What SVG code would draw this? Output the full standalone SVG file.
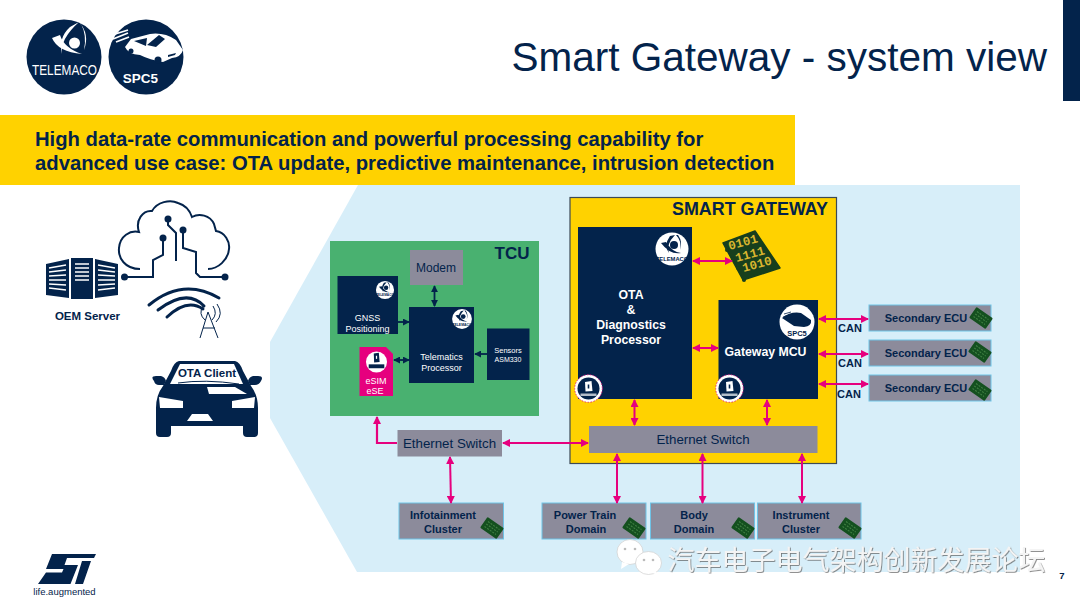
<svg xmlns="http://www.w3.org/2000/svg" xmlns:xlink="http://www.w3.org/1999/xlink" width="1080" height="608" viewBox="0 0 1080 608">
<style>
text{font-family:"Liberation Sans",Arial,sans-serif;fill:#03234b;text-anchor:middle}
.b{font-weight:bold}
.w{fill:#fff}
.navy{fill:#03234b}
.gray{fill:#8c8b9b}
.box{fill:#8c8b9b;stroke:#6fc3e6;stroke-width:1}
.lbl{font-size:11px;font-weight:bold}
.pk{stroke:#e6007e;stroke-width:2;fill:none;marker-start:url(#pa);marker-end:url(#pa)}
.pk1{stroke:#e6007e;stroke-width:2.200;fill:none;marker-end:url(#pa)}
.dk{stroke:#03234b;stroke-width:1.800;fill:none;marker-end:url(#da)}
.dk2{stroke:#03234b;stroke-width:1.800;fill:none;marker-start:url(#da);marker-end:url(#da)}
.ln{stroke:#03234b;fill:none;stroke-width:2}
.mono{fill:#d9b62f;font-family:"Liberation Mono",monospace;font-size:12.500px;font-weight:bold}
</style>
<defs>
<marker id="pa" viewBox="0 0 8 8" refX="7" refY="4" markerWidth="8" markerHeight="8" markerUnits="userSpaceOnUse" orient="auto-start-reverse"><path d="M0 0L8 4L0 8Z" fill="#e6007e"/></marker>
<marker id="da" viewBox="0 0 8 8" refX="7" refY="4" markerWidth="7" markerHeight="7" markerUnits="userSpaceOnUse" orient="auto-start-reverse"><path d="M0 0L8 4L0 8Z" fill="#03234b"/></marker>
<filter id="sh" x="-5%" y="-20%" width="110%" height="140%"><feDropShadow dx="0.800" dy="0.800" stdDeviation="0.500" flood-color="#555" flood-opacity="0.800"/></filter>
<g id="chip">
<g transform="rotate(35)">
<rect x="-10" y="-6.500" width="20" height="13" rx="1" fill="#14501f"/>
<path d="M-7-3H7M-7 0H7M-7 3H7" stroke="#3f7f42" stroke-width="1.100" stroke-dasharray="2 1.200"/>
</g>
</g>
<g id="tele">
<circle r="16.500" fill="#fff"/>
<path d="M-11-6Q-2 6 9 4Q0 3-6-7ZM-2-13Q-9-3-3 4Q-6-5 3-14ZM4-14Q10-8 8 1Q11-7 6-14Z" fill="#03234b"/>
<circle cx="2" cy="-4" r="4" fill="#03234b"/>
<text y="11.500" font-size="5.800" font-weight="bold">TELEMACO</text>
</g>
<g id="spc">
<circle r="17.500" fill="#fff"/>
<path d="M-15-4Q-6-11 4-9L14-2Q15 4 7 5L-3 4L-9 0Z" fill="#03234b"/>
<path d="M-13-8L-6-10M-14-5L-8-7" stroke="#03234b" stroke-width="0.800"/>
<text y="14" font-size="7.500" font-weight="bold">SPC5</text>
</g>
<g id="sec">
<circle r="13.800" fill="#fff" stroke="#e6007e" stroke-width="0.800" stroke-dasharray="1.500 1.500"/>
<circle r="11" fill="#03234b"/>
<path d="M-3.500-6.500L3-7.500L4 2.500L-3 3Z" fill="#fff"/>
<rect x="-0.800" y="-4" width="1.600" height="4" fill="#03234b"/>
<rect x="-8" y="5" width="16" height="2.500" fill="#fff" opacity="0.700"/>
</g>
<g id="sec2">
<circle r="13.500" fill="#fff"/>
<path d="M-3.500-11L3-12L4 0L-3 0.500Z" fill="#03234b"/>
<rect x="-0.800" y="-8" width="1.600" height="4" fill="#fff"/>
<rect x="-10" y="3" width="20" height="5" fill="#03234b"/>
</g>
</defs>

<rect id="corner" x="1063" y="0" width="17" height="101" fill="#03234b"/>

<g id="logos">
<circle cx="64" cy="57" r="37.500" fill="#03234b"/>
<path d="M52 38Q58 52 82 54Q64 48 60 35ZM70 27Q58 38 62 54Q60 39 79 22ZM79 22Q90 34 84 50Q87 35 81 24Z" fill="#fff"/>
<circle cx="74.500" cy="43" r="5.500" fill="#fff"/>
<text x="64.500" y="74.500" font-size="14.500" class="w" textLength="65" lengthAdjust="spacingAndGlyphs">TELEMACO</text>
<circle cx="146" cy="57" r="37.500" fill="#03234b"/>
<path d="M125 47L131 39L150 34Q164 32 176 40L183 50Q181 57 172 58L163 62Q150 60 140 55Q128 54 125 47Z" fill="#fff"/>
<path d="M113 39L128 33M112 35L128 30M116 42L129 37" stroke="#fff" stroke-width="1.800"/>
<path d="M147 45L159 35L165 39L156 47ZM134 41L147 38L146 46Z" fill="#03234b"/>
<circle cx="131" cy="51" r="2.500" fill="#03234b"/><circle cx="158" cy="60" r="3.500" fill="#03234b"/>
<path d="M168 55L176 53L175 55L168 57Z" fill="#03234b"/>
<text x="140.500" y="82.500" font-size="13.500" class="w" style="font-weight:bold">SPC5</text>
</g>

<g id="title"><text x="1047" y="71" font-size="40.500" style="text-anchor:end">Smart Gateway - system view</text></g>

<polygon id="bg" points="358,185 1020,185 1020,572 357,572 270,418 270,342" fill="#d7eef9"/>

<g id="banner">
<rect x="0" y="115" width="795" height="70" fill="#ffd200"/>
<text x="35" y="146" font-size="20.250" class="b" style="text-anchor:start">High data-rate communication and powerful processing capability for</text>
<text x="35" y="170" font-size="20.250" class="b" style="text-anchor:start">advanced use case: OTA update, predictive maintenance, intrusion detection</text>
</g>

<g id="oem-server">
<path d="M46 264L69 259V298L46 295ZM71 258H93V299H71ZM118 264L95 259V298L118 295Z" fill="#03234b"/>
<path d="M49 268L66 265M49 272L66 270M49 276L66 275M49 280L66 280M49 284L66 285M49 288L66 290M75 264H89M75 268H89M75 272H89M75 276H89M75 280H89M98 265L115 268M98 270L115 272M98 275L115 276M98 280L115 280M98 285L115 284M98 290L115 288" stroke="#fff" stroke-width="1.300"/>
<text x="87.500" y="320" font-size="11.500" class="b">OEM Server</text>
</g>

<g id="cloud">
<path class="ln" d="M140 269C125 269 118 258 119 248C120 236 130 230 139 232C135 220 143 210 152 211C157 202 170 199 178 203C185 205 190 211 192 217C199 213 210 215 214 224L216 231C225 232 230 242 229 249C228 260 218 269 208 269"/>
<path class="ln" d="M124 277H153V260L163 255V238M168 219V225L176 233V261M183 230V248L196 252V273L200 277H225"/>
<circle cx="124.500" cy="277" r="3.500" class="navy"/><circle cx="225" cy="277" r="3.500" class="navy"/>
<circle cx="163" cy="238" r="3.500" class="navy"/><circle cx="168" cy="219" r="3.500" class="navy"/><circle cx="183" cy="230" r="3.500" class="navy"/>
</g>

<g id="wireless">
<path d="M149 305Q183 277 219 298M158 310Q187 288 204 306M167 317Q187 298 203 309" fill="none" stroke="#03234b" stroke-width="3" stroke-linecap="round"/>
<path d="M200 338L208 312L218 338M203 328H215M203 306Q198 314 205 320M213 306Q218 314 212 320M217 304Q224 314 216 322" fill="none" stroke="#03234b" stroke-width="1"/>
</g>

<g id="ota-client">
<path d="M179 361H235Q240 362 243 371L251 386Q258 395 258 408V424Q258 426 256 426H158Q156 426 156 424V408Q156 395 163 386L171 371Q174 362 179 361Z" fill="#03234b"/>
<path d="M156 420H171V433Q171 437 167 437H160Q156 437 156 433ZM243 420H258V433Q258 437 254 437H247Q243 437 243 433Z" fill="#03234b"/>
<path d="M154 381Q150 376 156 376H161Q165 377 166 381L164 385H159Q155 385 154 381ZM261 381Q264 376 258 376H253Q249 377 248 381L250 385H255Q259 385 261 381Z" fill="#03234b"/>
<path d="M180 364H234L243 384H170Z" fill="#fff"/>
<path d="M178 383Q205 379 239 384" stroke="#03234b" stroke-width="1" fill="none"/>
<path d="M159 397L183 401V408H160ZM255 397L232 401V408H254ZM187 421L192 414H208L213 421Z" fill="#fff"/>
<path d="M207 387H235L247 394L209 394Z" fill="#fff"/>
<text x="207" y="377" font-size="11.500" class="b">OTA Client</text>
</g>

<g id="tcu">
<rect x="330" y="241" width="209" height="175" fill="#49b170"/>
<text x="512" y="259" font-size="17" class="b">TCU</text>
</g>
<g id="modem"><rect x="410" y="250" width="53" height="35" class="gray"/><text x="436" y="272" font-size="12">Modem</text></g>
<g id="gnss"><rect x="337.500" y="276" width="60.500" height="58" class="navy"/><text x="367.500" y="321" font-size="9" class="w">GNSS</text><text x="367.500" y="332" font-size="9" class="w">Positioning</text><use xlink:href="#tele" transform="translate(385,290) scale(0.550)"/></g>
<g id="telematics"><rect x="409" y="307" width="65" height="76" class="navy"/><text x="441.500" y="360" font-size="9" class="w">Telematics</text><text x="441.500" y="371" font-size="9" class="w">Processor</text><use xlink:href="#tele" transform="translate(462,319) scale(0.600)"/></g>
<g id="sensors"><rect x="487" y="328.500" width="42.500" height="51.500" class="navy"/><text x="508" y="353" font-size="7.500" class="w">Sensors</text><text x="508" y="362" font-size="7" class="w">ASM330</text></g>
<g id="esim"><path d="M359.500 347H386L393 354V396H359.500Z" fill="#e6007e"/><use xlink:href="#sec2" transform="translate(376.500,362) scale(0.780)"/><text x="376" y="384" font-size="9" class="w">eSIM</text><text x="375" y="394" font-size="9" class="w">eSE</text></g>
<g id="eth-left"><rect x="397.500" y="430" width="104.500" height="26.500" class="gray"/><text x="449.500" y="448" font-size="13.300">Ethernet Switch</text></g>

<g id="smart-gateway">
<rect x="570" y="197.500" width="266.500" height="266" fill="#ffd200" stroke="#3c4a55" stroke-width="1.200"/>
<text x="750" y="215" font-size="17.900" class="b">SMART GATEWAY</text>
</g>
<g id="ota-proc"><rect x="578" y="227" width="114" height="172" class="navy"/>
<text x="631" y="299" font-size="12.300" class="w b">OTA</text><text x="631" y="314" font-size="12.300" class="w b">&amp;</text><text x="631" y="329" font-size="12.300" class="w b">Diagnostics</text><text x="631" y="344" font-size="12.300" class="w b">Processor</text>
<use xlink:href="#tele" transform="translate(672,249)"/><use xlink:href="#sec" transform="translate(588.500,388.500)"/></g>
<g id="gw-mcu"><rect x="718.500" y="300" width="99.500" height="99" class="navy"/><text x="765.500" y="356" font-size="12.300" class="w b">Gateway MCU</text><use xlink:href="#spc" transform="translate(797,322)"/><use xlink:href="#sec" transform="translate(729.500,388.500)"/></g>
<g id="eth-right"><rect x="589" y="426" width="228.500" height="27" class="gray"/><text x="703" y="444" font-size="13.300">Ethernet Switch</text></g>
<g id="memory">
<polygon points="723,243 755,231 780,268 743,280" fill="#173f1d" stroke="#173f1d" stroke-width="1.500" stroke-linejoin="round"/>
<circle cx="727" cy="250" r="2" fill="#173f1d"/><circle cx="733" cy="259" r="2" fill="#173f1d"/><circle cx="738" cy="268" r="2" fill="#173f1d"/><circle cx="744" cy="280" r="2" fill="#173f1d"/>
<text class="mono" transform="translate(744,246) rotate(-15)">0101</text>
<text class="mono" transform="translate(751,258) rotate(-15)">1111</text>
<text class="mono" transform="translate(758,268) rotate(-15)">1010</text>
</g>

<g id="ecu1"><rect x="869" y="305" width="122" height="26" class="box"/><text x="926" y="322" class="lbl">Secondary ECU</text><use xlink:href="#chip" transform="translate(981,318)"/></g>
<g id="ecu2"><rect x="869" y="340" width="122" height="26" class="box"/><text x="926" y="357" class="lbl">Secondary ECU</text><use xlink:href="#chip" transform="translate(980,352)"/></g>
<g id="ecu3"><rect x="869" y="375" width="122" height="26" class="box"/><text x="926" y="392" class="lbl">Secondary ECU</text><use xlink:href="#chip" transform="translate(980,390)"/></g>

<g id="infotainment"><rect x="399" y="503" width="104.500" height="36" class="box"/><text x="443" y="519" class="lbl">Infotainment</text><text x="443" y="533" class="lbl">Cluster</text><use xlink:href="#chip" transform="translate(492,528)"/></g>
<g id="powertrain"><rect x="542" y="503" width="104" height="36" class="box"/><text x="585" y="519" class="lbl">Power Train</text><text x="586" y="533" class="lbl">Domain</text><use xlink:href="#chip" transform="translate(634,528)"/></g>
<g id="body"><rect x="650.500" y="503" width="104" height="36" class="box"/><text x="694" y="519" class="lbl">Body</text><text x="694" y="533" class="lbl">Domain</text><use xlink:href="#chip" transform="translate(743,528)"/></g>
<g id="instrument"><rect x="757.500" y="503" width="103.500" height="36" class="box"/><text x="801" y="519" class="lbl">Instrument</text><text x="801" y="533" class="lbl">Cluster</text><use xlink:href="#chip" transform="translate(850,528)"/></g>

<g id="connectors">
<path class="dk2" d="M434.500 286V306"/>
<path class="dk" d="M398 322H409"/>
<path class="dk" d="M487 354H475"/>
<path class="dk2" d="M394 360H409"/>
<path class="pk1" d="M397 443H377V417"/>
<path class="pk" d="M503 443H588"/>
<path class="pk" d="M450 457L451 503"/>
<path class="pk" d="M693 261H732"/>
<path class="pk" d="M693 348H718"/>
<path class="pk" d="M634.500 400V425"/>
<path class="pk" d="M767 400V425"/>
<path class="pk" d="M819 319H868"/>
<path class="pk" d="M819 354H868"/>
<path class="pk" d="M819 384H868"/>
<path class="pk" d="M617 454V503"/>
<path class="pk" d="M702.500 454V503"/>
<path class="pk" d="M802 454V503"/>
<text x="850" y="332" class="lbl">CAN</text>
<text x="850" y="367" class="lbl">CAN</text>
<text x="849" y="398" class="lbl">CAN</text>
</g>

<g id="st-logo">
<path class="navy" d="M52 554H96L94 558H67L64.500 565H78L70.500 584H38L46 572.500H62L63.500 569H46ZM82 561H91L83 584H75Z"/>
<text x="64.500" y="595" font-size="9.500">life.augmented</text>
</g>
<g id="page"><text x="1062" y="579" font-size="9.500" class="b">7</text></g>
<g id="watermark">
<ellipse cx="630" cy="552" rx="13" ry="12.500" fill="#fff" stroke="#cfcfcf" stroke-width="0.700"/>
<path d="M622 562L621 569L629 564Z" fill="#fff"/>
<ellipse cx="648.500" cy="563" rx="13" ry="11.500" fill="#fff" stroke="#cfcfcf" stroke-width="0.700"/>
<path d="M655 571L660 576L653 573Z" fill="#fff"/>
<circle cx="625" cy="549" r="1.300" fill="#bbb"/><circle cx="635" cy="549" r="1.300" fill="#bbb"/><circle cx="644" cy="560" r="1.300" fill="#bbb"/><circle cx="653" cy="560" r="1.300" fill="#bbb"/>
<text x="856.500" y="570" font-size="27" filter="url(#sh)" style="fill:#f4f4f4;font-family:'Noto Sans CJK SC','Liberation Sans',sans-serif">汽车电子电气架构创新发展论坛</text>
</g>
</svg>
